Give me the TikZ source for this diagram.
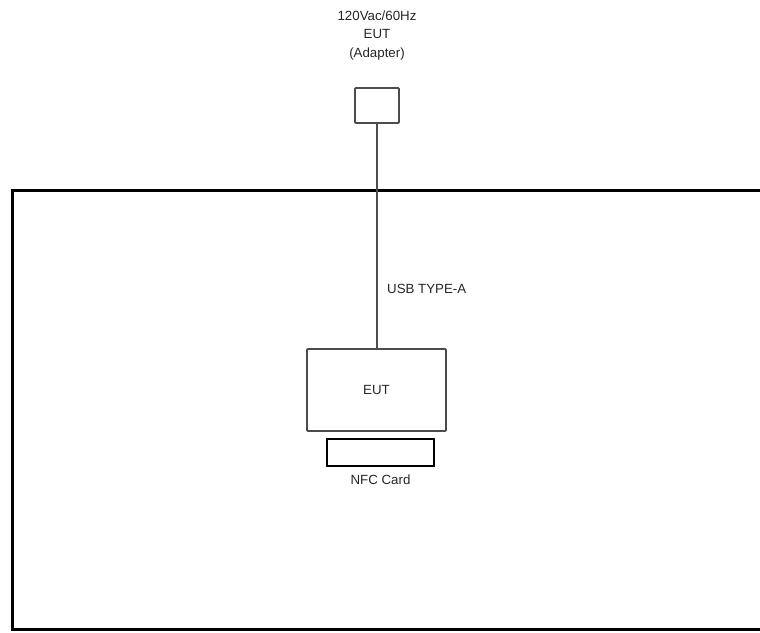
\documentclass[tikz,border=0pt]{standalone}
\usepackage{fontspec}
\setmainfont{Liberation Sans}
\usetikzlibrary{positioning}
\tikzset{
  unit/.style={draw=black!70, line width=1.8pt, rounded corners=1pt, inner sep=0pt},
  lbl/.style={font=\fontsize{13.3}{18.5}\selectfont, text=black!85, inner sep=0pt}
}
\begin{document}
\begin{tikzpicture}[x=1pt,y=-1pt]
      \useasboundingbox (0,0) rectangle (760,632);
      % test room
      \draw[line width=3pt] (765,190) -- (12,190) -- (12,629) -- (765,629);
      \draw
        (377,105.5) node[unit, minimum width=44pt, minimum height=35pt] (adapter){}
        (376.5,390) node[unit, minimum width=139pt, minimum height=82pt] (eut){}
        (380.5,452.5) node[draw, line width=1.3pt, inner sep=0pt, minimum width=107pt, minimum height=27pt] (nfc){};
      \node[lbl, align=center, above=27pt of adapter] (supply){120Vac/60Hz\\EUT\\(Adapter)};
      \node[lbl] (euttext) at (eut) {EUT};
      \node[lbl, below=8pt of nfc] (nfctext){NFC Card};
      \begin{scope}[-]
        \draw[black!70, line width=1.3pt] (adapter.south) to (adapter.south |- eut.north);
      \end{scope}
      \node[lbl, anchor=west] (cable) at (387,289) {USB TYPE-A};
    \end{tikzpicture}
\end{document}
